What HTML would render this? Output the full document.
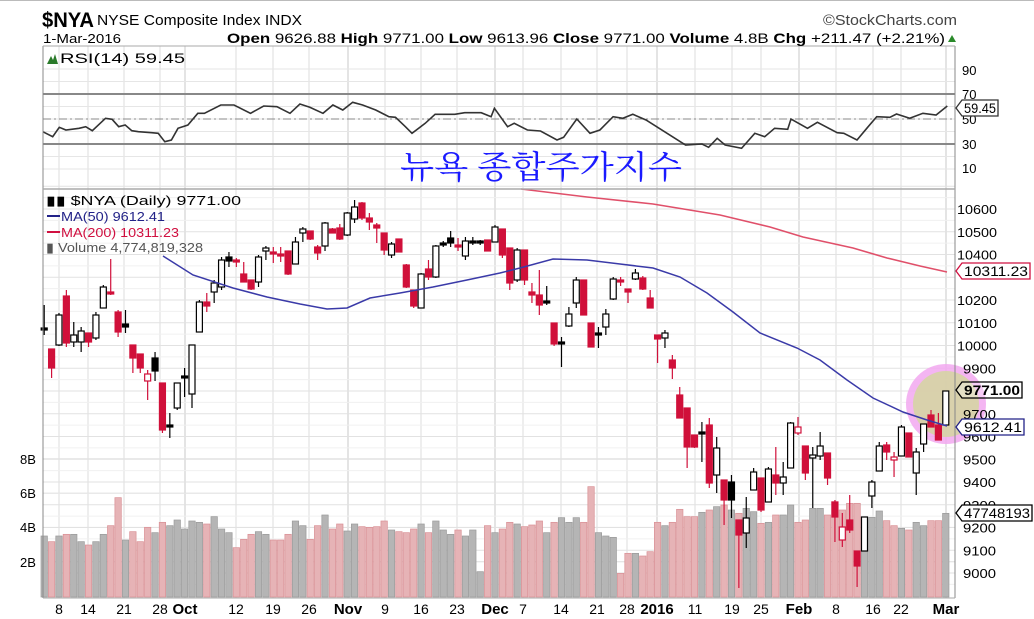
<!DOCTYPE html>
<html><head><meta charset="utf-8"><style>
html,body{margin:0;padding:0;background:#fff;}
svg{display:block;font-family:"Liberation Sans",sans-serif;}
</style></head><body>
<svg id="s" width="1034" height="619" viewBox="0 0 1034 619" xmlns="http://www.w3.org/2000/svg">
<rect width="1034" height="619" fill="#fff"/>
<line x1="0" y1="0.5" x2="1034" y2="0.5" stroke="#bbb"/>
<g id="grid"></g>
<circle cx="946" cy="404" r="40" fill="#f2a8f0" opacity="0.85"/>
<circle cx="946" cy="404" r="33" fill="#d6d4a4" opacity="0.9"/>
<g id="vol"></g>
<g id="lines"></g>
<g id="candles"></g>
<g id="frame"></g>
<text x="42" y="27" font-size="21" font-weight="bold" textLength="52" lengthAdjust="spacingAndGlyphs">$NYA</text>
<text x="97" y="25" font-size="15" textLength="205" lengthAdjust="spacingAndGlyphs">NYSE Composite Index  INDX</text>
<text x="823" y="25" font-size="15" fill="#444" textLength="134" lengthAdjust="spacingAndGlyphs">©StockCharts.com</text>
<text x="43" y="43" font-size="13" textLength="78" lengthAdjust="spacingAndGlyphs">1-Mar-2016</text>
<text x="227" y="43" font-size="14" textLength="718" lengthAdjust="spacingAndGlyphs"><tspan font-weight="bold">Open</tspan> 9626.88 <tspan font-weight="bold">High</tspan> 9771.00 <tspan font-weight="bold">Low</tspan> 9613.96 <tspan font-weight="bold">Close</tspan> 9771.00 <tspan font-weight="bold">Volume</tspan> 4.8B <tspan font-weight="bold">Chg</tspan> +211.47 (+2.21%)</text>
<polygon points="948,42 956,42 952,35" fill="#2a8a2a"/>
<polygon points="47,64 51,56 53,60 55,54 58,64" fill="#2a7a2a"/>
<text x="60" y="63" font-size="14" textLength="125" lengthAdjust="spacingAndGlyphs">RSI(14) 59.45</text>
<text x="400" y="178" font-size="32" fill="#1a1aff" font-family="'Noto Serif CJK SC','Noto Serif CJK KR',serif" textLength="282" lengthAdjust="spacingAndGlyphs">뉴욕 종합주가지수</text>
<g font-size="13" fill="#000">
<text x="46" y="205" textLength="195" lengthAdjust="spacingAndGlyphs">▮▮ $NYA (Daily) 9771.00</text>
<line x1="47" y1="216" x2="60" y2="216" stroke="#222288" stroke-width="2"/>
<text x="61" y="221" fill="#222288" textLength="104" lengthAdjust="spacingAndGlyphs">MA(50) 9612.41</text>
<line x1="47" y1="232" x2="60" y2="232" stroke="#d01040" stroke-width="2"/>
<text x="61" y="237" fill="#d01040" textLength="118" lengthAdjust="spacingAndGlyphs">MA(200) 10311.23</text>
<text x="46" y="252" fill="#555" textLength="157" lengthAdjust="spacingAndGlyphs">▮ Volume 4,774,819,328</text>
</g>
<g id="labels" font-size="13"></g>
<g id="top"></g>
</svg>
<script>
var NS="http://www.w3.org/2000/svg";
function el(p,t,a,txt){var e=document.createElementNS(NS,t);for(var k in a)e.setAttribute(k,a[k]);if(txt!=null)e.textContent=txt;document.getElementById(p).appendChild(e);return e;}
var L=43,R=955;
var vx=[59,88,124,160,185,236,273,309,348,385,421,457,495,523,561,597,627,657,695,732,761,799,836,873,901,946];
vx.forEach(function(x){el('grid','line',{x1:x,y1:46,x2:x,y2:598,stroke:'#ddd'});});
[185,348,495,657,799,946].forEach(function(x){el('grid','line',{x1:x,y1:46,x2:x,y2:598,stroke:'#c8c8c8'});});
for(var v=10;v<=90;v+=10){var y=144-(v-30)*1.25;el('grid','line',{x1:L,y1:y,x2:R,y2:y,stroke:'#e6e6e6'});}
for(var p=8950;p<=10700;p+=50){var y=573-(p-9000)*0.2275;el('grid','line',{x1:L,y1:y,x2:R,y2:y,stroke:(p%100?'#f0f0f0':'#e2e2e2')});}
[2,4,6,8].forEach(function(b){var y=596-b*17.15;el('grid','line',{x1:L,y1:y,x2:R,y2:y,stroke:'#e2e2e2'});});
el('grid','line',{x1:L,y1:94,x2:R,y2:94,stroke:'#888','stroke-width':2});
el('grid','line',{x1:L,y1:144,x2:R,y2:144,stroke:'#888','stroke-width':2});
el('grid','line',{x1:L,y1:119,x2:R,y2:119,stroke:'#888','stroke-dasharray':'8,3,2,3'});
var rsi=[[65,395],[80,410],[90,382],[100,390],[120,385],[130,380],[140,392],[160,355],[170,358],[180,380],[190,375],[200,392],[210,395],[230,398],[240,400],[250,425],[260,420],[270,385],[285,375],[300,340],[310,340],[335,315],[355,315],[380,340],[400,318],[420,320],[440,340],[455,312],[470,322],[490,340],[505,315],[520,330],[535,307],[550,315],[570,330],[590,350],[600,352],[615,380],[625,400],[645,370],[660,343],[690,343],[705,338],[730,338],[745,350],[750,325],[770,380],[780,370],[800,390],[820,393],[845,420],[855,412],[875,357],[895,400],[910,390],[930,350],[945,355],[960,343],[980,360],[1000,385],[1040,435],[1065,432],[1075,442],[1088,415],[1100,435],[1125,445],[1145,400],[1160,410],[1175,385],[1195,388],[1200,357],[1225,385],[1240,367],[1270,398],[1280,400],[1300,420],[1315,385],[1330,350],[1350,352],[1360,342],[1380,355],[1400,340],[1420,345],[1437,318]];
el('lines','polyline',{points:rsi.map(function(q){return (q[0]/1.517).toFixed(1)+','+(q[1]/3).toFixed(1);}).join(' '),fill:'none',stroke:'#333','stroke-width':1.6});
var C=[['b',328,330,305,335],['r',349,368,349,378],['h',315,345,313,346],['r',296,343,290,347],['h',335,342,322,347],['h',331,342,327,352],['r',333,342,333,347],['h',315,338,312,340],['h',287,308,285,308],['r',292,294,259,295],['r',312,332,310,337],['b',324,327,310,333],['r',345,358,345,373],['r',354,368,354,373],['hr',374,381,370,400],['b',358,371,352,381],['r',383,430,383,433],['b',425,427,413,438],['h',383,408,383,410],['b',376,378,368,397],['h',345,394,345,408],['h',302,332,300,332],['r',302,306,293,312],['h',283,292,280,303],['h',260,287,257,290],['b',257,261,252,267],['r',260,262,258,267],['r',274,282,262,282],['r',280,289,280,290],['h',257,282,255,287],['h',248,251,246,260],['r',252,254,247,263],['r',254,256,247,262],['r',251,274,251,275],['h',242,264,237,264],['h',229,233,227,242],['r',231,239,231,240],['r',247,253,245,260],['h',223,246,222,251],['r',229,233,228,233],['r',228,239,224,240],['h',213,235,212,236],['h',207,219,200,223],['r',203,218,202,220],['r',218,222,213,230],['r',225,228,223,243],['r',233,250,233,255],['h',244,255,242,258],['r',239,252,239,252],['r',265,287,264,288],['r',290,306,290,308],['h',274,308,273,308],['r',269,277,260,280],['h',246,277,245,278],['b',243,245,241,247],['b',238,243,231,247],['r',245,247,238,251],['h',241,256,237,260],['b',241,243,237,245],['b',241,243,240,245],['r',240,251,240,251],['h',227,242,225,242],['r',229,255,229,258],['r',248,283,248,290],['h',250,280,248,282],['r',250,280,250,285],
['r',292,295,283,303],['r',295,305,270,315],['b',301,303,286,305],['r',323,344,323,346],['b',342,344,337,367],['h',314,326,307,327],['h',280,303,277,308],['r',280,315,280,315],['r',323,347,323,347],['b',333,335,327,348],['h',314,327,309,335],['h',279,299,277,300],['r',280,282,277,286],['r',289,292,289,303],['h',273,279,269,280],['r',278,289,276,290],['r',298,308,290,308],['r',335,339,335,363],['h',333,338,330,348],['r',360,368,355,379],['r',395,418,387,418],['r',408,447,408,468],['r',435,447,435,448],['b',432,434,422,462],['r',425,483,418,488],['h',448,475,437,493],['r',480,500,480,525],['b',482,500,475,518],['r',520,535,520,588],['h',518,533,497,548],['h',472,490,468,490],['r',478,510,478,512],['h',469,502,467,502],['r',475,483,447,495],['h',477,483,462,495],['h',423,468,422,468],['hr',427,433,417,435],['r',446,473,446,480],['h',455,458,447,508],['h',446,456,432,460],['r',453,478,453,485],['r',502,517,500,542],['hr',527,540,513,547],['r',520,530,495,533],['r',551,566,551,587],['h',517,551,517,551],['h',482,496,480,508],['h',446,471,442,471],['r',445,452,442,460],['hr',457,460,452,477],['h',427,456,425,456],['r',433,457,433,457],['h',452,473,448,495],['h',424,444,424,452],['r',415,427,410,427],['r',425,440,413,440],['h',391,425,391,425]];
var V1=[1068,1085,1068,1063,1063,1085,1095,1085,1063,1037,953,1080,1055,1085,1042,1058,1027,1037,1020,1047,1023,1027,1032,1010,1047,1058,1103,1078,1063,1055,1063,1080,1080,1063,1023,1037,1078,1037,1005,1047,1032,1053,1032,1040,1042,1040,1023,1050,1055,1058,1047,1032,1058,1023,1050,1063,1050,1068,1050,1175,1037,1058,1047,1027,1032];
var V2=[1040,1035,1023,1058,1027,1013,1027,1013,1027,920,1058,1068,1072,1180,1120,1120,1128,1115,1027,1037,1027,988,1010,1010,997,990,980,975,990,1000,985,995,1030,1027,1005,1005,975,1027,1020,985,985,1005,965,990,970,970,1012,1012,993,1022,1037,1045,1050,1027,1037,1022,1022,1000];
var V=V1.concat(V2);
C.forEach(function(c,i){
 var x=44.2+7.39*i; var red=(c[0]=='r'||c[0]=='hr');
 var vz=V[i]||1040; var vy=vz/3+180;
 if(x>L+1) el('vol','rect',{x:x-3.2,y:vy,width:6.4,height:Math.max(0,597-vy),fill:red?'#e6b3b6':'#b5b5b5',stroke:red?'#d99095':'#9a9a9a','stroke-width':0.7});
 var col=red?'#d0103a':'#000';
 el('candles','line',{x1:x,y1:c[3],x2:x,y2:c[4],stroke:col,'stroke-width':1.2});
 var h=Math.max(1.5,c[2]-c[1]);
 var fill=(c[0]=='h'||c[0]=='hr')?'#fff':col;
 el('candles','rect',{x:x-3,y:c[1],width:6,height:h,fill:fill,stroke:col,'stroke-width':1.2});
});
var ma50=[[163,256],[193,275],[233,288],[267,297],[300,304],[327,309],[347,308],[370,298],[400,293],[433,287],[467,280],[500,273],[520,268],[553,259],[587,260],[620,264],[653,268],[680,277],[707,293],[733,312],[760,333],[797,348],[820,360],[847,380],[873,398],[903,412],[927,420],[947,426]];
var ma200=[[521,189],[587,197],[653,204],[720,215],[770,227],[803,237],[853,248],[887,258],[920,266],[947,272]];
el('lines','polyline',{points:ma200.join(' '),fill:'none',stroke:'#e0506a','stroke-width':1.6});
el('top','polyline',{points:ma50.join(' '),fill:'none',stroke:'#3a3aa8','stroke-width':1.5});
el('frame','line',{x1:L,y1:46,x2:L,y2:598,stroke:'#888'});
el('frame','line',{x1:R,y1:46,x2:R,y2:598,stroke:'#888'});
el('frame','line',{x1:L,y1:46,x2:R,y2:46,stroke:'#aaa'});
el('frame','line',{x1:L,y1:189,x2:R,y2:189,stroke:'#aaa','stroke-width':1.5});
el('frame','line',{x1:L,y1:598,x2:R,y2:598,stroke:'#aaa'});
[[90,70],[70,94],[50,119],[30,144],[10,168]].forEach(function(a){el('labels','text',{x:962,y:a[1]+5},String(a[0]));});
for(var p=9000;p<=10600;p+=100){if(p==10300||p==9800)continue;var y=573-(p-9000)*0.2275;el('labels','text',{x:p>=10000?957:963,y:y+5,textLength:p>=10000?40:33,lengthAdjust:'spacingAndGlyphs'},String(p));}
[['8B',459],['6B',493],['4B',527],['2B',562]].forEach(function(a){el('labels','text',{x:20,y:a[1]+5},a[0]);});
var xl=[['8',59],['14',88],['21',124],['28',160],['Oct',185,1],['12',236],['19',273],['26',309],['Nov',348,1],['9',385],['16',421],['23',457],['Dec',495,1],['7',523],['14',561],['21',597],['28',627],['2016',657,1],['11',695],['19',732],['25',761],['Feb',799,1],['8',836],['16',873],['22',901],['Mar',946,1]];
xl.forEach(function(a){var t=el('labels','text',{x:a[1],y:614,'text-anchor':'middle','font-size':a[2]?15:14},a[0]);if(a[2])t.setAttribute('font-weight','bold');});
function tag(y,txt,col,w,bold){
 var x0=956;el('top','polygon',{points:x0+','+y+' '+(x0+6)+','+(y-8)+' '+(x0+6+w)+','+(y-8)+' '+(x0+6+w)+','+(y+8)+' '+(x0+6)+','+(y+8),fill:'#fff',stroke:col,'stroke-width':1.3,'fill-opacity':bold?0.3:1});
 var t=el('top','text',{x:x0+8,y:y+5,'font-size':14,textLength:w-4,lengthAdjust:'spacingAndGlyphs'},txt);if(bold)t.setAttribute('font-weight','bold');
}
tag(108,'59.45','#333',36);
tag(271,'10311.23','#d01040',68);
tag(390,'9771.00','#000',60,1);
tag(427,'9612.41','#222288',62);
tag(513,'47748193','#000',70);
</script>
</body></html>
